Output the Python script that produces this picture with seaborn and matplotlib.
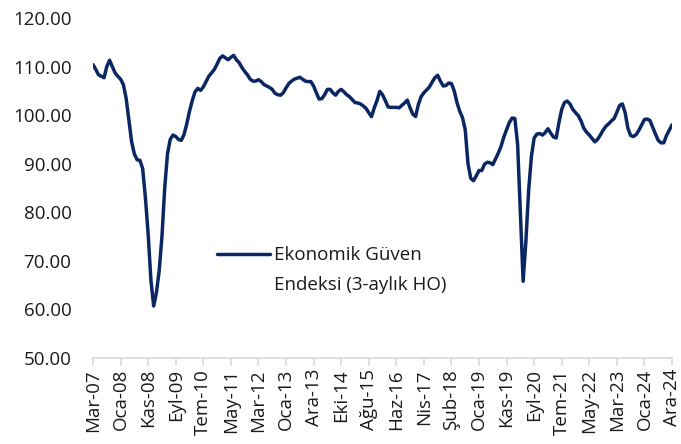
import numpy as np
import pandas as pd
import seaborn as sns
import matplotlib.pyplot as plt
from matplotlib.lines import Line2D

# Ekonomik Guven Endeksi (3-month moving average), Mar-07 .. Ara-24
guven = [
    110.4, 109.4, 108.3, 108.0, 107.7, 110.0, 111.3, 110.0, 108.7, 108.0,
    107.4, 106.3, 103.5, 99.0, 94.5, 92.0, 90.8, 90.7, 89.0, 83.0,
    75.5, 66.0, 60.7, 63.5, 68.0, 75.0, 85.0, 92.0, 95.0, 95.9,
    95.6, 95.0, 94.8, 96.0, 98.2, 100.8, 103.0, 104.8, 105.5, 105.1,
    105.8, 106.9, 108.0, 108.7, 109.4, 110.5, 111.7, 112.2, 111.8, 111.4,
    111.9, 112.3, 111.4, 110.8, 109.8, 109.0, 108.3, 107.4, 107.0, 107.0,
    107.3, 106.9, 106.3, 106.0, 105.7, 105.3, 104.5, 104.2, 104.1, 104.6,
    105.6, 106.5, 107.0, 107.4, 107.6, 107.8, 107.4, 107.0, 106.9, 106.9,
    106.0, 104.6, 103.3, 103.4, 104.2, 105.3, 105.3, 104.6, 104.1, 104.9,
    105.3, 104.8, 104.2, 103.8, 103.2, 102.6, 102.5, 102.3, 101.9, 101.4,
    100.5, 99.7, 101.5, 103.0, 104.9, 104.2, 103.0, 101.7, 101.6, 101.6,
    101.6, 101.5, 102.0, 102.5, 103.1, 101.5, 100.2, 99.7, 102.2, 103.8,
    104.6, 105.2, 105.8, 106.8, 107.7, 108.2, 107.0, 106.0, 106.1, 106.6,
    106.5, 105.0, 102.6, 100.8, 99.5, 97.0, 90.0, 87.0, 86.5, 87.5,
    88.6, 88.6, 89.9, 90.3, 90.2, 89.8, 91.0, 92.2, 93.6, 95.5,
    97.0, 98.5, 99.4, 99.3, 94.0, 80.0, 65.8, 74.0, 84.5, 91.5,
    95.3, 96.1, 96.2, 95.9, 96.4, 97.2, 96.3, 95.5, 95.3, 98.5,
    101.2, 102.6, 102.9, 102.3, 101.2, 100.5, 99.9, 98.8, 97.3, 96.5,
    95.9, 95.2, 94.5, 95.0, 95.9, 96.9, 97.7, 98.2, 98.8, 99.3,
    100.6, 102.0, 102.3, 100.5, 97.3, 95.8, 95.6, 96.0, 96.9, 98.0,
    99.1, 99.2, 98.9, 97.5, 96.1, 94.8, 94.3, 94.3, 95.8, 96.9,
    98.0,
]

tick_labels = ['Mar-07', 'Oca-08', 'Kas-08', 'Eyl-09', 'Tem-10', 'May-11',
               'Mar-12', 'Oca-13', 'Ara-13', 'Eki-14', 'Ağu-15', 'Haz-16',
               'Nis-17', 'Şub-18', 'Oca-19', 'Kas-19', 'Eyl-20', 'Tem-21',
               'May-22', 'Mar-23', 'Oca-24', 'Ara-24']

y_ticks = [50, 60, 70, 80, 90, 100, 110, 120]

legend_lines = ['Ekonomik Güven', 'Endeksi (3-aylık HO)']

df = pd.DataFrame({'idx': np.arange(len(guven)), 'val': guven})

sns.set_style("white")
plt.rcParams['font.family'] = ['Open Sans', 'DejaVu Sans']

fig = plt.figure(figsize=(6.81, 4.44), dpi=100)
ax = fig.add_axes([0.1366, 0.1937, 0.8502, 0.7658])

line_color = '#0b2763'
sns.lineplot(data=df, x='idx', y='val', color=line_color, linewidth=2.5,
             ax=ax, legend=False)

ax.set_xlim(0, len(guven) - 1)
ax.set_ylim(50, 120)
ax.set_yticks(y_ticks)
ax.set_yticklabels([f'{v:.2f}' for v in y_ticks], fontsize=13.5,
                   color='#1a1a1a')
ax.set_xticks(np.arange(0, len(guven), 10))
ax.set_xticklabels(tick_labels, rotation=90, fontsize=13.5, color='#1a1a1a')
ax.set_xlabel('')
ax.set_ylabel('')

for s in ['top', 'right', 'left']:
    ax.spines[s].set_visible(False)
ax.spines['bottom'].set_color('#d9d9d9')
ax.spines['bottom'].set_linewidth(1.2)
ax.tick_params(axis='x', bottom=True, length=6, width=1.2, color='#d9d9d9',
               pad=2)
ax.tick_params(axis='y', left=False, pad=12)

# legend: sample line beside first line of a two-line label
handles = [Line2D([], [], color=line_color, linewidth=2.5),
           Line2D([], [], color='none')]
ax.legend(handles, legend_lines, loc='upper left',
          bbox_to_anchor=(0.198, 0.356), frameon=False, borderpad=0,
          fontsize=13.5, handlelength=2.8, handletextpad=0.25,
          labelspacing=0.6, labelcolor='#1a1a1a')

plt.savefig('out.png', dpi=100)
